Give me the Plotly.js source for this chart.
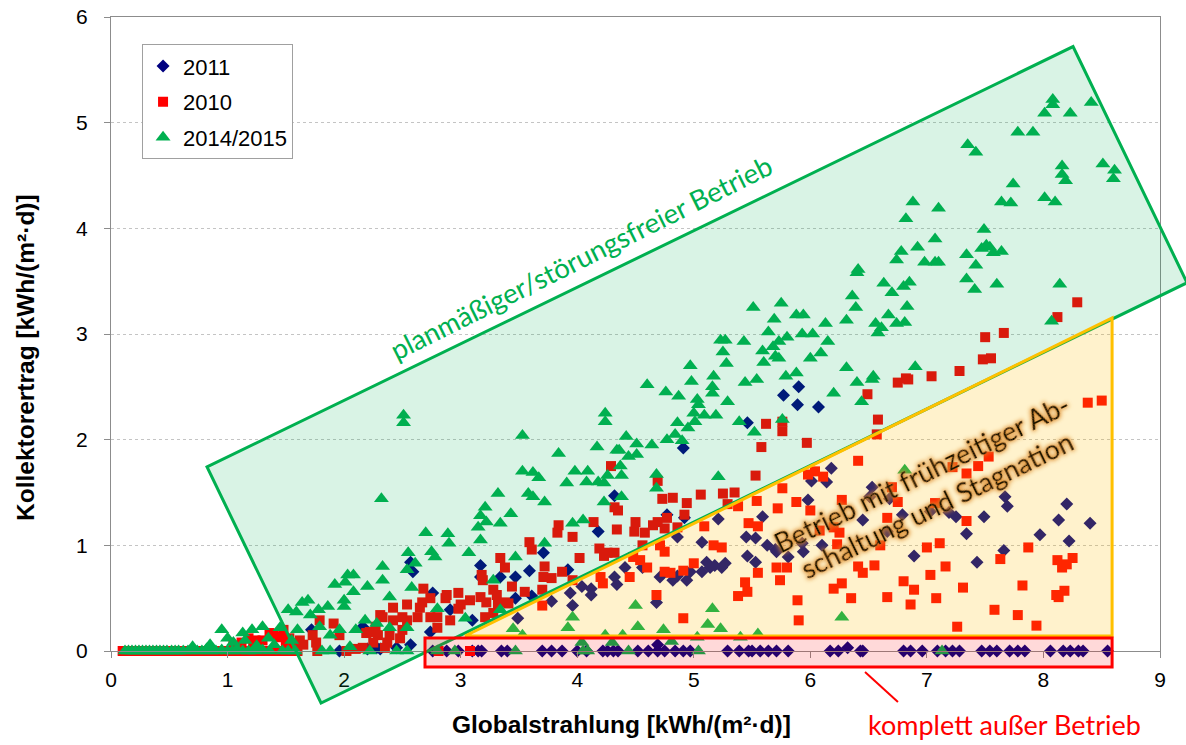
<!DOCTYPE html>
<html><head><meta charset="utf-8">
<script src="https://cdn.plot.ly/plotly-3.0.1.min.js"></script>
<style>
html,body{margin:0;padding:0;background:#fff;}
#chart{width:1186px;height:745px;}
g.annotation[data-index="0"] text.annotation-text{filter:url(#glow);}
</style></head><body>
<svg width="0" height="0" style="position:absolute">
<defs>
<filter id="glow" x="-10%" y="-40%" width="120%" height="180%">
<feMorphology in="SourceAlpha" operator="dilate" radius="1.4" result="d"/>
<feGaussianBlur in="d" stdDeviation="2.2" result="b"/>
<feFlood flood-color="#DD8A28" flood-opacity="0.9"/>
<feComposite in2="b" operator="in" result="g"/>
<feMerge><feMergeNode in="g"/><feMergeNode in="SourceGraphic"/></feMerge>
</filter>
</defs>
</svg>
<div id="chart"></div>
<script>
// ---- series names ----
const seriesNames = ["2011", "2010", "2014/2015"];
const xTicks = [0,1,2,3,4,5,6,7,8,9];
const yTicks = [0,1,2,3,4,5,6];

// ---- 2011 (navy diamonds) ----
const x2011 = [2.76,2.88,2.98,3.10,3.15,3.18,3.35,3.40,3.70,3.78,3.87,4.00,4.08,4.22,4.26,4.31,4.35,4.52,4.61,4.69,4.75,4.84,4.91,4.97,5.29,5.39,5.47,5.50,5.57,5.64,5.71,5.81,6.17,6.24,6.32,6.43,6.45,6.80,6.86,6.96,7.09,7.16,7.22,7.28,7.47,7.54,7.60,7.71,7.78,7.84,8.06,8.17,8.23,8.30,8.34,8.55,
1.96,2.20,2.31,2.28,2.45,2.57,2.74,2.91,3.17,3.10,2.76,1.72,2.57,2.59,2.16,4.69,
5.77,5.89,5.46,4.91,4.32,4.18,3.71,4.77,4.92,4.86,5.07,5.21,5.45,5.53,5.59,5.63,5.71,5.81,5.46,5.53,5.11,5.18,5.14,5.24,5.27,5.07,4.97,4.86,4.71,4.82,4.94,4.56,4.41,4.32,4.34,4.04,4.12,4.12,3.92,3.94,3.96,3.59,3.78,3.49,3.47,3.34,3.17,3.47,3.61,4.68,
5.90,6.07,6.18,6.01,6.14,5.98,5.70,5.93,5.94,6.10,6.45,6.51,6.68,6.79,6.66,7.03,7.19,7.25,7.34,7.49,7.67,7.69,7.97,8.13,8.20,8.22,8.40,6.89,7.43,7.66,6.53];
const y2011 = [0,0,0,0,0,0,0,0,0,0,0,0,0,0,0,0,0,0,0,0,0,0,0,0,0,0,0,0,0,0,0,0,0,0,0.03,0,0,0,0,0,0,0,0,0,0,0,0,0,0,0,0,0,0,0,0,0,
0,0.02,0.02,0.03,0.03,0.06,0.18,0.39,0.81,0.29,0.55,0.20,0.84,0.75,0.23,0.06,
2.42,2.33,2.16,1.92,1.47,1.13,0.93,1.29,1.26,1.08,1.03,1.25,1.08,1.07,1.27,1.00,0.94,0.89,0.90,0.84,0.84,0.81,0.79,0.79,0.83,0.75,0.75,0.71,0.70,0.67,0.67,0.79,0.79,0.70,0.63,0.61,0.59,0.53,0.77,0.55,0.43,0.76,0.47,0.31,0.70,0.70,0.70,0.50,0.52,0.46,
2.50,2.31,1.73,1.61,1.60,1.43,0.96,1.02,0.94,1.00,1.24,1.46,1.44,1.29,1.13,1.32,1.31,1.27,1.11,1.27,1.46,1.37,1.10,1.24,1.39,1.04,1.21,0.90,0.84,0.95,1.55];

// ---- 2010 (red squares) ----
const x2010 = [0.10,0.15,0.20,0.25,0.30,0.35,0.40,0.45,0.50,0.55,0.60,0.65,0.70,0.75,0.80,0.85,0.90,0.95,1.00,1.05,1.10,1.15,1.20,1.25,1.30,1.35,1.40,1.45,1.50,1.55,1.60,
1.05,1.12,1.18,1.22,1.24,1.30,1.36,1.39,1.42,1.45,1.48,1.50,1.53,1.57,1.62,
1.79,1.91,1.73,1.76,1.65,1.96,2.16,2.19,2.31,2.42,2.42,2.50,2.54,2.63,2.29,2.39,2.48,2.37,2.50,2.35,2.27,2.33,2.22,2.65,2.74,2.88,2.98,3.00,3.08,3.17,3.22,3.19,3.28,2.91,2.80,2.02,1.77,2.10,2.25,
5.62,5.76,5.76,5.58,4.29,4.69,5.53,4.73,4.82,4.94,5.06,5.25,5.35,5.29,5.38,5.54,5.76,5.72,5.47,5.55,5.88,4.32,4.35,4.77,4.92,3.84,3.83,3.96,4.14,4.34,4.50,4.49,4.58,4.65,4.69,4.75,4.86,4.56,4.71,4.75,5.17,5.24,5.09,4.19,4.23,4.26,4.32,4.48,4.54,4.02,3.72,4.20,4.22,4.45,4.60,4.75,4.80,4.91,5.00,5.55,5.44,5.46,5.38,5.80,5.74,5.89,5.90,4.68,4.91,3.71,3.78,3.70,3.87,3.96,3.61,3.59,3.34,3.18,3.38,3.44,3.31,3.38,3.55,3.70,2.87,2.68,2.67,2.74,2.98,3.32,3.41,2.54,2.80,3.21,3.28,3.08,2.81,
8.38,8.50,6.75,6.84,6.49,6.58,6.57,5.97,6.41,7.53,7.44,7.22,7.34,6.04,5.98,6.11,6.00,6.27,6.70,6.75,7.07,6.66,7.34,6.20,6.08,6.25,6.23,6.60,7.00,7.11,7.87,7.63,8.12,8.25,8.16,8.20,5.71,6.41,6.45,6.55,7.03,7.16,6.27,6.20,6.80,6.89,7.31,7.82,8.11,8.18,8.13,6.35,6.66,7.08,6.86,7.58,7.78,7.26,7.94,
8.29,8.12,7.50,7.66,7.48,7.55,7.28,7.04,6.82];
const y2010 = [0,0,0,0,0,0,0,0,0,0,0,0,0,0,0,0,0,0,0,0,0,0,0,0,0,0,0,0,0,0,0,
0.05,0.08,0.12,0.06,0.10,0.10,0.17,0.15,0.14,0.13,0.20,0.08,0.12,0.04,0.10,
0.29,0.26,0.15,0.08,0.06,0.15,0.03,0.17,0.34,0.41,0.29,0.32,0.44,0.32,0.15,0.15,0.12,0.08,0.20,0.03,0.23,0.32,0.18,0.41,0.32,0.53,0.55,0.44,0.48,0.51,0.46,0.67,0.58,0.29,0.22,0,0,0.02,0.08,
2.15,2.17,2.08,1.93,1.75,1.61,1.66,1.44,1.45,1.40,1.48,1.49,1.50,1.39,1.37,1.42,1.54,1.35,1.21,1.18,1.41,1.36,1.33,1.26,1.29,1.19,1.12,1.08,1.22,1.15,1.22,1.13,1.12,1.19,1.22,1.16,1.17,1.00,1.00,0.94,1.00,0.98,1.18,0.97,0.90,0.93,0.93,0.89,0.86,0.88,0.80,0.70,0.64,0.70,0.79,0.75,0.74,0.76,0.83,0.74,0.65,0.56,0.52,0.79,0.67,0.48,0.29,0.53,0.31,0.70,0.69,0.58,0.75,0.67,0.96,1.03,0.88,0.72,0.79,0.61,0.53,0.46,0.56,0.43,0.50,0.59,0.46,0.50,0.40,0.45,0.45,0.29,0.32,0.32,0.36,0,0,
2.35,2.37,2.54,2.57,2.43,2.19,2.05,1.97,1.80,1.84,1.75,1.74,1.68,1.70,1.67,1.65,1.33,1.43,1.55,1.41,1.40,1.26,1.23,1.17,1.14,1.12,1.01,1.00,0.98,1.02,0.98,0.87,0.86,0.88,0.79,0.82,0.79,0.80,0.74,0.81,0.72,0.80,0.64,0.59,0.66,0.58,0.60,0.62,0.53,0.57,0.51,0.50,0.51,0.50,0.44,0.39,0.34,0.23,0.24,
3.30,3.16,2.97,3.01,2.76,2.77,2.65,2.60,2.58];

// ---- 2014/2015 (green triangles) ----
const x2014 = [0.12,0.15,0.18,0.21,0.24,0.27,0.30,0.33,0.36,0.39,0.42,0.45,0.48,0.52,0.55,0.58,0.62,0.66,0.70,0.74,0.78,0.82,0.86,0.90,0.95,1.00,1.04,1.08,1.13,1.18,1.24,1.30,1.36,1.47,1.52,1.58,1.81,1.88,2.22,2.45,2.54,2.80,2.95,3.47,4.05,4.09,4.44,5.04,7.13,
0.95,1.00,1.13,1.21,1.30,1.45,1.05,1.15,1.25,1.35,1.40,1.55,0.70,0.85,1.60,1.79,1.88,1.96,2.10,2.18,2.28,2.39,2.54,2.05,
1.52,1.59,1.64,1.69,1.71,1.78,1.86,1.92,2.01,2.08,2.03,2.08,2.00,2.00,2.20,2.33,2.33,2.39,2.55,2.54,2.58,2.61,2.32,
2.51,2.51,3.53,4.17,3.84,4.34,3.53,3.62,3.67,3.98,4.09,4.08,4.18,4.23,3.91,3.32,3.58,3.62,3.72,4.23,3.21,3.17,3.43,3.34,3.22,3.96,4.05,
4.60,4.76,4.87,4.98,5.16,5.16,5.03,5.04,5.29,5.44,5.54,4.24,4.24,5.00,5.01,5.09,5.19,4.86,4.95,5.39,5.52,5.76,4.42,4.77,4.84,4.90,4.36,4.44,4.51,4.51,4.64,4.37,4.38,4.26,4.68,4.68,5.21,4.38,3.72,3.47,3.15,3.17,2.89,2.90,2.70,2.75,2.78,3.07,3.28,2.80,3.04,3.34,3.96,3.92,4.50,5.16,5.12,5.23,4.52,4.74,3.45,3.53,4.24,4.39,5.40,5.55,5.03,4.81,4.04,4.30,6.27,6.20,6.44,6.81,6.40,6.53,
6.88,6.82,6.92,6.78,6.74,6.41,6.40,6.63,6.70,6.80,6.85,6.36,6.39,6.83,6.31,6.67,6.56,6.61,6.58,6.74,6.81,5.51,5.75,5.88,5.94,5.69,6.13,5.64,5.73,5.80,5.93,6.02,6.15,5.43,5.23,5.27,5.25,5.59,5.68,5.70,5.73,5.60,6.00,6.09,5.28,4.97,5.17,5.79,5.88,6.31,6.54,6.90,
8.08,8.08,8.01,8.23,8.41,7.78,7.91,7.35,7.42,8.16,8.16,8.19,8.51,8.61,8.60,7.74,7.64,7.72,8.01,8.10,7.10,7.49,7.07,6.98,7.07,7.10,7.34,7.47,7.51,7.54,7.57,7.64,7.42,7.34,7.41,7.60,8.14,8.07];
const y2014 = [0,0,0,0,0,0,0,0,0,0,0,0,0,0,0,0,0,0,0.02,0,0,0.02,0,0,0.01,0,0,0.02,0,0,0,0.01,0,0,0,0,0,0,0,0,0,0,0,0,0,0,0,0,0,
0.20,0.12,0.17,0.20,0.23,0.22,0.08,0.10,0.05,0.12,0.06,0.10,0.04,0.06,0.20,0.23,0.15,0.20,0.20,0.29,0.26,0.22,0.22,0.04,
0.39,0.37,0.46,0.48,0.34,0.39,0.42,0.63,0.65,0.72,0.72,0.56,0.48,0.42,0.61,0.80,0.67,0.51,0.93,0.77,0.60,0.83,1.44,
2.23,2.16,2.04,1.93,1.87,1.90,1.70,1.69,1.64,1.70,1.70,1.60,1.60,1.59,1.59,1.49,1.49,1.46,1.41,1.41,1.36,1.28,1.30,1.21,1.22,1.21,1.24,
2.52,2.45,2.41,2.55,2.50,2.44,2.38,2.33,2.36,2.54,2.57,2.25,2.17,2.25,2.17,2.23,2.23,2.16,2.11,2.17,2.07,2.19,2.03,2.00,2.05,1.99,1.90,1.84,1.96,1.86,1.95,1.75,1.66,1.66,1.67,1.54,1.65,1.46,1.02,0.89,1.17,1.05,1.11,1.02,1.12,0.94,0.89,0.93,0.67,0.40,0.31,0.39,0.32,0.22,0.43,0.40,0.25,0.21,0.23,0.20,0.21,0.15,0.15,0.15,0.13,0.16,0.13,0.09,0.08,0.08,0.32,2.44,2.36,1.71,2.54,2.57,
4.25,4.09,3.82,3.78,3.70,3.61,3.58,3.48,3.39,3.45,3.49,3.36,3.25,3.26,3.13,3.18,3.10,3.06,3.01,3.10,3.11,3.25,3.29,3.18,3.18,3.14,3.10,3.02,2.93,2.97,3.00,3.00,2.93,2.93,2.94,2.94,2.83,2.84,2.88,2.79,2.77,2.73,2.77,2.82,2.72,2.70,2.60,2.60,2.63,2.68,2.60,2.69,
5.22,5.17,5.09,5.09,5.19,4.91,4.91,4.79,4.72,4.59,4.51,4.45,4.61,4.55,4.47,4.42,4.25,4.24,4.29,4.25,4.19,3.99,3.90,3.68,3.68,3.68,3.75,3.81,3.84,3.82,3.77,3.78,3.65,3.52,3.42,3.47,3.47,3.12];

// ---- helpers (positions only) ----
const toPaper = (x, y) => [x / 9, y / 6];
const pathOf = pts => 'M' + pts.map(p => { const q = toPaper(p[0], p[1]); return q[0].toFixed(5) + ',' + q[1].toFixed(5); }).join(' L') + ' Z';

const traces = [
  {type:'scatter', mode:'markers', name:seriesNames[0], x:x2011, y:y2011, cliponaxis:false, legendgroup:'a',
   marker:{symbol:'diamond', size:10, color:'#000080', line:{width:0}}},
  {type:'scatter', mode:'markers', name:seriesNames[1], x:x2010, y:y2010, cliponaxis:false, legendgroup:'b',
   marker:{symbol:'square', size:10, color:'#FF0000', line:{width:0}}},
  {type:'scatter', mode:'markers', name:seriesNames[2], x:x2014, y:y2014, cliponaxis:false, legendgroup:'c',
   marker:{symbol:'triangle-up', size:13, color:'#00B050', line:{width:0}}}
];

const shapes = [
  {type:'path', xref:'paper', yref:'paper', layer:'above',
   path: pathOf([[0.824,1.742],[8.254,5.720],[9.232,3.485],[1.802,-0.492]]),
   fillcolor:'rgba(0,176,80,0.15)', line:{color:'#00B050', width:3}},
  {type:'path', xref:'paper', yref:'paper', layer:'above',
   path: pathOf([[3.037,0.142],[8.589,0.142],[8.589,3.153]]),
   fillcolor:'rgba(255,192,0,0.2)', line:{color:'#FFC000', width:3}},
  {type:'path', xref:'paper', yref:'paper', layer:'above',
   path: pathOf([[2.694,0.123],[8.589,0.123],[8.589,-0.152],[2.694,-0.152]]),
   fillcolor:'rgba(255,0,0,0.15)', line:{color:'#FF0000', width:3}},
  {type:'line', xref:'paper', yref:'paper', layer:'above',
   x0:0.7188, y0:-0.0331, x1:0.7502, y1:-0.0804, line:{color:'#FF0000', width:2}}
];

const A = {xanchor:'center', yanchor:'middle', showarrow:false, xref:'paper', yref:'paper'};
const annotations = [
  Object.assign({}, A, {x:7.02/9, y:1.534/6, textangle:-26,
   text:'Betrieb mit frühzeitiger Ab-<br>schaltung und Stagnation', align:'center',
   font:{family:'Lato, Noto Sans, sans-serif', size:27, color:'#1E1206'}}),
  Object.assign({}, A, {x:4.033/9, y:3.722/6, textangle:-26.5,
   text:'planmäßiger/störungsfreier Betrieb',
   font:{family:'Lato, Noto Sans, sans-serif', size:27.5, color:'#00B050'}}),
  Object.assign({}, A, {x:0.852, y:-0.1167,
   text:'komplett außer Betrieb',
   font:{family:'Lato, Noto Sans, sans-serif', size:27, color:'#FF0000'}}),
  Object.assign({}, A, {x:0.487, y:-0.1167,
   text:'<b>Globalstrahlung [kWh/(m²·d)]</b>',
   font:{family:'Liberation Sans, Arial, sans-serif', size:24.5, color:'#000'}}),
  Object.assign({}, A, {x:-0.082, y:0.4637, textangle:-90,
   text:'<b>Kollektorertrag [kWh/(m²·d)]</b>',
   font:{family:'Liberation Sans, Arial, sans-serif', size:24.5, color:'#000'}})
];

const layout = {
  width:1186, height:745,
  margin:{l:111, r:26, t:17, b:94},
  paper_bgcolor:'#ffffff', plot_bgcolor:'#ffffff',
  font:{family:'Liberation Sans, Arial, sans-serif', size:20, color:'#000'},
  xaxis:{range:[0,9], tickvals:xTicks, ticktext:xTicks.map(String), showgrid:false, zeroline:false,
         showline:true, linecolor:'#8C8C8C', linewidth:1, mirror:true, ticks:'outside', ticklen:6,
         tickcolor:'#8C8C8C', tickfont:{size:21}, ticklabelstandoff:4, fixedrange:true},
  yaxis:{range:[0,6], tickvals:yTicks, ticktext:yTicks.map(String), showgrid:true, gridcolor:'#C4C4C4',
         griddash:'dot', gridwidth:1, zeroline:false, showline:true, linecolor:'#8C8C8C', linewidth:1,
         mirror:true, ticks:'outside', ticklen:6, tickcolor:'#8C8C8C', tickfont:{size:21},
         ticklabelstandoff:12, fixedrange:true},
  showlegend:true,
  legend:{x:0.0296, y:0.957, xanchor:'left', yanchor:'top', bgcolor:'#ffffff', bordercolor:'#A0A0A0',
          borderwidth:1, font:{size:22, color:'#000'}, tracegroupgap:4, itemwidth:30},
  shapes:shapes,
  annotations:annotations
};

Plotly.newPlot('chart', traces, layout, {staticPlot:true, displayModeBar:false});
</script>
</body></html>
